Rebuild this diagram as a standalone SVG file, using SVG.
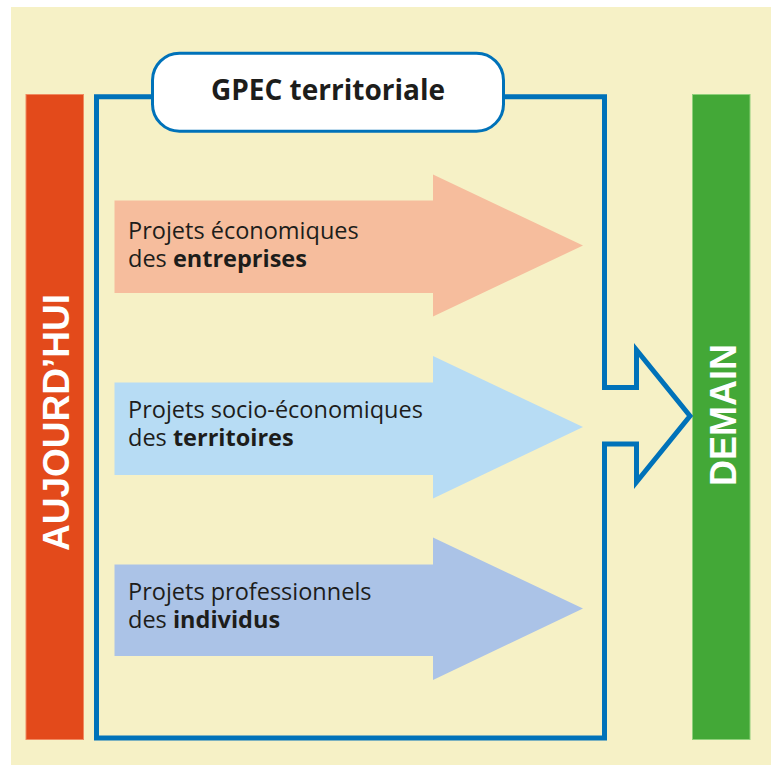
<svg xmlns="http://www.w3.org/2000/svg" width="776" height="765" viewBox="0 0 776 765">
  <style>
    .txt { font-family: "Open Sans", "Liberation Sans", sans-serif; font-size: 23.5px; fill: #1d1d1b; }
    .b { font-weight: bold; }
    .title { font-family: "Open Sans", "Liberation Sans", sans-serif; font-size: 28px; font-weight: bold; fill: #1d1d1b; }
    .vlabel { font-family: "Liberation Sans", Arial, sans-serif; font-weight: bold; fill: #ffffff; text-anchor: middle; }
    .frame { fill: none; stroke: #0072b9; stroke-width: 5; stroke-linejoin: miter; }
  </style>
  <rect id="background" x="11" y="7" width="760" height="758" fill="#f6f1c6"/>

  <g id="aujourdhui">
    <rect x="26" y="94.5" width="57.5" height="645" fill="#e34a1b" stroke="#f08a60" stroke-width="1"/>
    <text class="vlabel" font-size="37" transform="translate(68.5,422.5) rotate(-90)" x="0" y="0">AUJOURD’HUI</text>
  </g>

  <g id="demain">
    <rect x="692.5" y="94.5" width="57.5" height="645" fill="#43a837" stroke="#8fd07a" stroke-width="1"/>
    <text class="vlabel" font-size="36" transform="translate(735.5,415) rotate(-90)" x="0" y="0">DEMAIN</text>
  </g>

  <g id="connectors">
    <path class="frame" d="M 153 96.8 H 96.5 V 738 H 604.5 V 444 H 636.5 V 482 L 690 416 L 636.5 350 V 387.5 H 604.5 V 96.8 H 503"/>
  </g>

  <g id="gpec">
    <rect x="152.5" y="53.2" width="351" height="78" rx="27" ry="27" fill="#ffffff" stroke="#0072b9" stroke-width="3"/>
    <text class="title" x="328" y="100" text-anchor="middle">GPEC territoriale</text>
  </g>

  <g id="arrow-entreprises">
    <polygon points="114.5,200.5 433,200.5 433,174.5 583,245.5 433,316.5 433,293 114.5,293" fill="#f6bd9d"/>
    <text class="txt" x="128" y="239">Projets économiques</text>
    <text class="txt" x="128" y="267">des <tspan class="b">entreprises</tspan></text>
  </g>

  <g id="arrow-territoires">
    <polygon points="114.5,382.5 433,382.5 433,356 583,427 433,498.5 433,475 114.5,475" fill="#b7dcf4"/>
    <text class="txt" x="128" y="418">Projets socio-économiques</text>
    <text class="txt" x="128" y="446">des <tspan class="b">territoires</tspan></text>
  </g>

  <g id="arrow-individus">
    <polygon points="114.5,564.5 433,564.5 433,537.5 583,608.5 433,680 433,656 114.5,656" fill="#abc3e7"/>
    <text class="txt" x="128" y="600">Projets professionnels</text>
    <text class="txt" x="128" y="628">des <tspan class="b">individus</tspan></text>
  </g>
</svg>
